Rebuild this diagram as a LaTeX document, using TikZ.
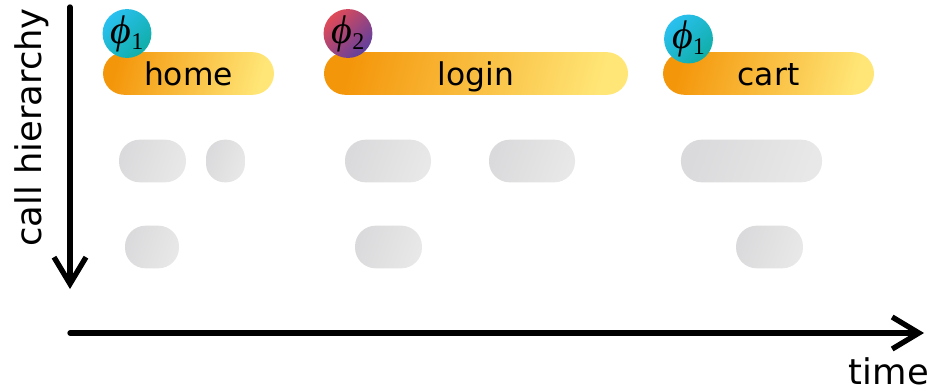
\documentclass[tikz,border=0pt]{standalone}
\usepackage{amsmath}
\usepackage{fontspec}
\setmainfont{DejaVu Sans}
\newfontfamily\phifont{Liberation Serif}
\usepackage{tikz}
\usetikzlibrary{positioning,arrows.meta}
\definecolor{pillorange}{HTML}{F4960A}
\definecolor{pillyellow}{HTML}{FFE677}
\definecolor{spangrey}{HTML}{DADADC}
\definecolor{spanlight}{HTML}{E8E8E8}
\definecolor{phiblue}{HTML}{2AC0F0}
\definecolor{phiteal}{HTML}{10AEA8}
\definecolor{phired}{HTML}{E04A58}
\definecolor{phiviolet}{HTML}{60409E}
\newcommand{\phisub}[1]{{\phifont\textit{ϕ}\raisebox{-4.5pt}{\fontsize{18pt}{18pt}\selectfont #1}}}
\tikzset{
  span/.style={rectangle, draw=none, rounded corners=15.5pt, minimum height=32pt, inner sep=0pt,
               left color=spangrey, right color=spanlight, shading angle=70},
  route/.style={span, rounded corners=16pt, left color=pillorange, right color=pillyellow, shading angle=75,
                font=\fontsize{23.5pt}{23.5pt}\selectfont, text=black, text height=17.5pt, text depth=0pt},
  phibadge/.style={circle, draw=none, minimum size=36.5pt, inner sep=0pt, font=\fontsize{30pt}{30pt}\selectfont},
  phione/.style={top color=phiblue, bottom color=phiteal, shading angle=45},
  phitwo/.style={top color=phired, bottom color=phiviolet, shading angle=45},
  axis/.style={-{Straight Barb[length=20pt,width=24pt,line width=4pt]}, line width=4pt, line cap=round},
  axislabel/.style={font=\fontsize{26.5pt}{26.5pt}\selectfont, inner sep=0pt},
}
\begin{document}
\begin{tikzpicture}[x=0.75pt, y=-0.75pt]
  \useasboundingbox (0,0) rectangle (934,392);

  % top row
  \node[route, minimum width=128.2pt] (home) at (188.5,73.5) {home};
  \node[route, minimum width=228pt] (login) at (476,73.5) {login};
  \node[route, minimum width=158.2pt] (cart) at (768.5,73.5) {cart};

  \node[phibadge, phione] (phi1) at (127,33.5) {\phisub{1}};
  \node[phibadge, phitwo] (phi2) at (348,33.5) {\phisub{2}};
  \node[phibadge, phione] (phi3) at (688.5,39) {\phisub{1}};

  % grey rows
  \node[span, minimum width=50.2pt] (span1) at (152.5,161) {};
  \node[span, minimum width=29.2pt, rounded corners=14pt] (span2) at (225.5,161) {};
  \node[span, minimum width=64.5pt] (span3) at (388,161) {};
  \node[span, minimum width=64.5pt] (span4) at (532,161) {};
  \node[span, minimum width=105.8pt] (span5) at (751.5,161) {};

  \node[span, minimum width=40.5pt] (span6) at (152,247) {};
  \node[span, minimum width=50.2pt] (span7) at (388.5,247) {};
  \node[span, minimum width=50.2pt] (span8) at (769.5,247) {};

  % axes
  \coordinate (ytop) at (70,7);
  \coordinate (ybot) at (70,289);
  \coordinate (xleft) at (70,333);
  \coordinate (xright) at (924,333);
  \draw[axis] (ytop) -- (ybot);
  \draw[axis] (xleft) -- (xright);

  \node[axislabel, rotate=90] (ylabel) at (32,127.5) {call hierarchy};
  \node[axislabel, anchor=south east] (xlabel) at (929,385) {time};
\end{tikzpicture}
\end{document}
